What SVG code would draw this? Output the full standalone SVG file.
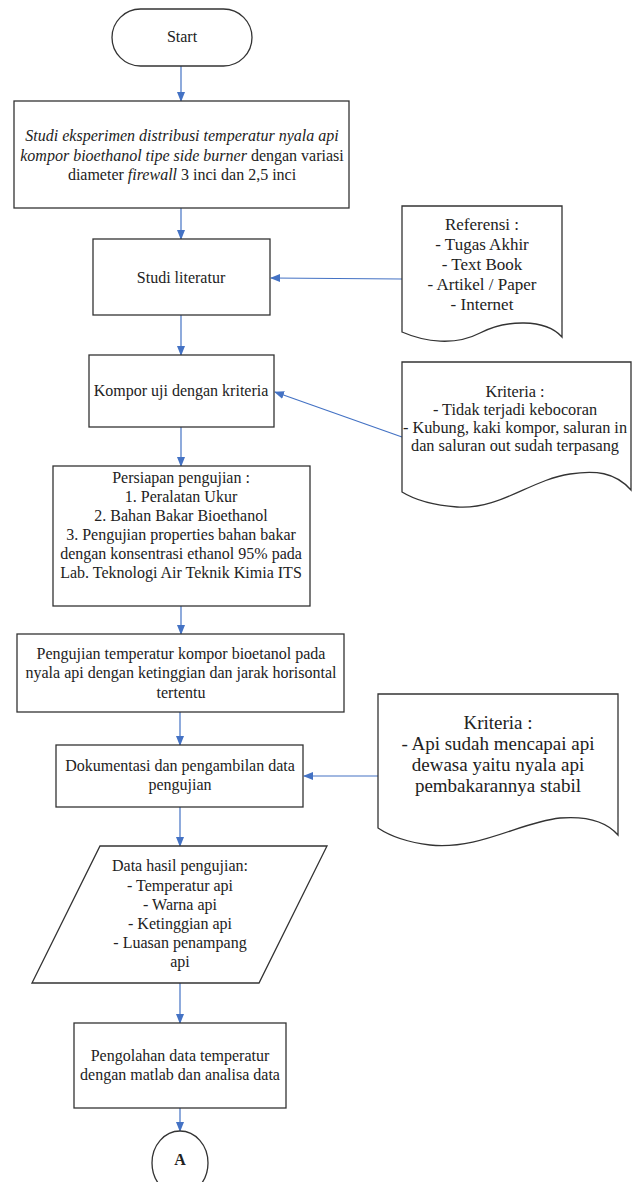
<svg xmlns="http://www.w3.org/2000/svg" width="633" height="1182" viewBox="0 0 633 1182">
<defs>
<marker id="ah" markerWidth="10" markerHeight="10" refX="9" refY="5" orient="auto" markerUnits="userSpaceOnUse" viewBox="0 0 10 10">
<path d="M0,1 L10,5 L0,9 Z" fill="#4472C4"/>
</marker>
<style>
.shape{fill:#fff;stroke:#333;stroke-width:1.3}
.t{font-family:"Liberation Serif","Times New Roman",serif;font-size:16px;fill:#222;text-anchor:middle}
.t17{font-family:"Liberation Serif","Times New Roman",serif;font-size:17px;fill:#222;text-anchor:middle}
.t16{font-family:"Liberation Serif","Times New Roman",serif;font-size:16.3px;fill:#222;text-anchor:middle}
.t19{font-family:"Liberation Serif","Times New Roman",serif;font-size:19px;fill:#222;text-anchor:middle}
.it{font-style:italic}
.c{fill:none;stroke:#4472C4;stroke-width:1.2;marker-end:url(#ah)}
</style>
</defs>
<rect width="633" height="1182" fill="#fff"/>

<g id="connectors">
<line class="c" x1="181" y1="66" x2="181" y2="101"/>
<line class="c" x1="181" y1="208" x2="181" y2="239"/>
<line class="c" x1="181" y1="315" x2="181" y2="355"/>
<line class="c" x1="181" y1="427" x2="181" y2="466"/>
<line class="c" x1="181" y1="606" x2="181" y2="634"/>
<line class="c" x1="180" y1="712" x2="180" y2="745"/>
<line class="c" x1="180" y1="807" x2="180" y2="846"/>
<line class="c" x1="180" y1="983" x2="180" y2="1023"/>
<line class="c" x1="180" y1="1108" x2="180" y2="1131"/>
<line class="c" x1="402" y1="279" x2="271" y2="278"/>
<line class="c" x1="402" y1="437" x2="275" y2="392"/>
<line class="c" x1="378" y1="776" x2="304" y2="776"/>
</g>

<g id="start">
<rect class="shape" x="112" y="9" width="140" height="57" rx="28.5"/>
<text class="t" x="182" y="42">Start</text>
</g>

<g id="studi-eksperimen">
<rect class="shape" x="14" y="101" width="335" height="107"/>
<text class="t" x="182" y="141"><tspan class="it">Studi eksperimen distribusi temperatur nyala api</tspan></text>
<text class="t" x="182" y="161"><tspan class="it">kompor bioethanol tipe side burner</tspan> dengan variasi</text>
<text class="t" x="182" y="180">diameter <tspan class="it">firewall</tspan> 3 inci dan 2,5 inci</text>
</g>

<g id="studi-literatur">
<rect class="shape" x="93" y="239" width="177" height="76"/>
<text class="t" x="181" y="283">Studi literatur</text>
</g>

<g id="referensi">
<path class="shape" d="M402,206 H562 V337 C545,318 505,320 480,333 C455,346 425,342 402,332 Z"/>
<text class="t17" x="482" y="230">Referensi :</text>
<text class="t17" x="482" y="250">- Tugas Akhir</text>
<text class="t17" x="482" y="270">- Text Book</text>
<text class="t17" x="482" y="290">- Artikel / Paper</text>
<text class="t17" x="482" y="310">- Internet</text>
</g>

<g id="kompor-uji">
<rect class="shape" x="89" y="355" width="185" height="72"/>
<text class="t" x="181" y="396">Kompor uji dengan kriteria</text>
</g>

<g id="kriteria-1">
<path class="shape" d="M402,362 H631 V490 C615,472 595,470 570,474 C530,480 500,510 457,507 C430,505 415,500 402,492 Z"/>
<text class="t16" x="515" y="397">Kriteria :</text>
<text class="t16" x="515" y="415">- Tidak terjadi kebocoran</text>
<text class="t16" x="515" y="433">- Kubung, kaki kompor, saluran in</text>
<text class="t16" x="515" y="451">dan saluran out sudah terpasang</text>
</g>

<g id="persiapan">
<rect class="shape" x="53" y="466" width="257" height="140"/>
<text class="t" x="181" y="483">Persiapan pengujian :</text>
<text class="t" x="181" y="502">1. Peralatan Ukur</text>
<text class="t" x="181" y="521">2. Bahan Bakar Bioethanol</text>
<text class="t" x="181" y="540">3. Pengujian properties bahan bakar</text>
<text class="t" x="181" y="559">dengan konsentrasi ethanol 95% pada</text>
<text class="t" x="181" y="578">Lab. Teknologi Air Teknik Kimia ITS</text>
</g>

<g id="pengujian">
<rect class="shape" x="17" y="634" width="327" height="78"/>
<text class="t" x="181" y="659">Pengujian temperatur kompor bioetanol pada</text>
<text class="t" x="181" y="678">nyala api dengan ketinggian dan jarak horisontal</text>
<text class="t" x="181" y="698">tertentu</text>
</g>

<g id="dokumentasi">
<rect class="shape" x="56" y="745" width="247" height="62"/>
<text class="t" x="180" y="771">Dokumentasi dan pengambilan data</text>
<text class="t" x="180" y="790">pengujian</text>
</g>

<g id="kriteria-2">
<path class="shape" d="M378,694 H618 V835 C605,820 585,816 560,818 C520,822 480,850 430,845 C405,842 390,836 378,828 Z"/>
<text class="t19" x="498" y="729">Kriteria :</text>
<text class="t19" x="498" y="750">- Api sudah mencapai api</text>
<text class="t19" x="498" y="771">dewasa yaitu nyala api</text>
<text class="t19" x="498" y="792">pembakarannya stabil</text>
</g>

<g id="data-hasil">
<polygon class="shape" points="100,846 327,846 259,983 32,983"/>
<text class="t" x="180" y="871">Data hasil pengujian:</text>
<text class="t" x="180" y="891">- Temperatur api</text>
<text class="t" x="180" y="910">- Warna api</text>
<text class="t" x="180" y="929">- Ketinggian api</text>
<text class="t" x="180" y="948">- Luasan penampang</text>
<text class="t" x="180" y="967">api</text>
</g>

<g id="pengolahan">
<rect class="shape" x="74" y="1023" width="212" height="85"/>
<text class="t" x="180" y="1061">Pengolahan data temperatur</text>
<text class="t" x="180" y="1080">dengan matlab dan analisa data</text>
</g>

<g id="connector-a">
<ellipse class="shape" cx="180" cy="1163" rx="28" ry="32"/>
<text class="t" x="180" y="1165" font-weight="bold">A</text>
</g>
</svg>
